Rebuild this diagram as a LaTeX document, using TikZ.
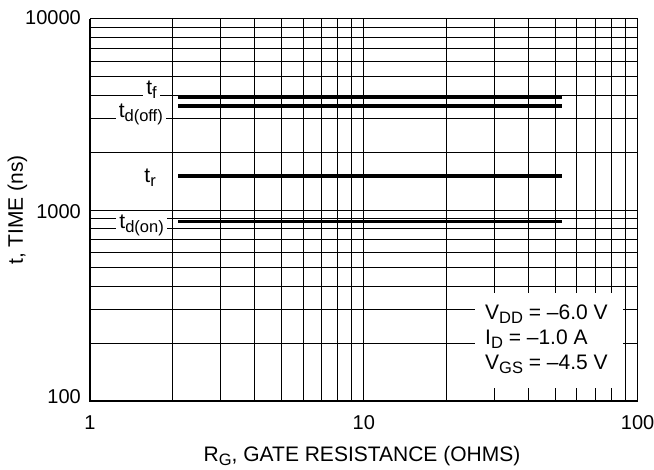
\documentclass[tikz,border=0pt]{standalone}
\usepackage{fontspec}
\setmainfont{Liberation Sans}
\newcommand\lsub[1]{\raisebox{-4pt}{\fontsize{16.5}{17}\selectfont #1}}
\begin{document}
\begin{tikzpicture}[x=1pt,y=-1pt,
  gridline/.style={line width=1pt, black},
  axisline/.style={line width=2pt, black},
  curve/.style={line width=3.2pt, black},
  ticklbl/.style={font=\fontsize{20}{22}\selectfont, inner sep=0pt},
  txt/.style={font=\fontsize{21}{23}\selectfont, inner sep=0pt},
  curvelbl/.style={txt, fill=white, inner xsep=3pt, inner ysep=2pt, anchor=base east},
  declare function={X(\v)=90+273.8*log10(\v); Y(\v)=401-191*(log10(\v)-2);}
]
\useasboundingbox (0,0) rectangle (654,470);
% grid
\foreach \d in {1,10}{\foreach \m in {2,...,9}{
  \draw[gridline] ({X(\m*\d)},{Y(100)}) -- ({X(\m*\d)},{Y(10000)});}}
\draw[gridline] ({X(10)},{Y(100)}) -- ({X(10)},{Y(10000)});
\foreach \d in {100,1000}{\foreach \m in {2,...,9}{
  \draw[gridline] ({X(1)},{Y(\m*\d)}) -- ({X(100)},{Y(\m*\d)});}}
\draw[gridline] ({X(1)},{Y(1000)}) -- ({X(100)},{Y(1000)});
\draw[gridline] ({X(1)},{Y(10000)}) rectangle ({X(100)},{Y(100)});
\draw[axisline] ({X(1)},{Y(10000)}) -- ({X(1)},{Y(100)}) -- ({X(100)},{Y(100)});
% legend box
\fill[white] (475,293) rectangle (623,388);
\node[txt, anchor=base west] (vdd) at (485,320) {V\lsub{DD} = –6.0 V};
\node[txt, anchor=base west] (id) at (485,345) {I\lsub{D} = –1.0 A};
\node[txt, anchor=base west] (vgs) at (485,370) {V\lsub{GS} = –4.5 V};
% curves
\draw[curve] ({X(2.1)},{Y(3890)}) -- ({X(53)},{Y(3890)});
\draw[curve] ({X(2.1)},{Y(3505)}) -- ({X(53)},{Y(3505)});
\draw[curve] ({X(2.1)},{Y(1507)}) -- ({X(53)},{Y(1507)});
\draw[curve] ({X(2.1)},{Y(868)}) -- ({X(53)},{Y(868)});
% curve labels
\node[curvelbl] (tf) at (160,95) {t\lsub{f}};
\node[curvelbl] (tdoff) at (166,118) {t\lsub{d(off)}};
\node[curvelbl] (tr) at (159,183) {t\lsub{r}};
\node[curvelbl] (tdon) at (167,229) {t\lsub{d(on)}};
% tick labels
\node[ticklbl, anchor=base east] (y4) at (81,25) {10000};
\node[ticklbl, anchor=base east] (y3) at (81,219) {1000};
\node[ticklbl, anchor=base east] (y2) at (81,404) {100};
\node[ticklbl, anchor=base] (x0) at ({X(1)},430) {1};
\node[ticklbl, anchor=base] (x1) at ({X(10)},430) {10};
\node[ticklbl, anchor=base] (x2) at ({X(100)},430) {100};
% axis titles
\node[txt, rotate=90, anchor=base] (ylab) at (23,210) {t, TIME (ns)};
\node[txt, anchor=base] (xlab) at (362,462) {R\lsub{G}, GATE RESISTANCE (OHMS)};
\end{tikzpicture}
\end{document}
